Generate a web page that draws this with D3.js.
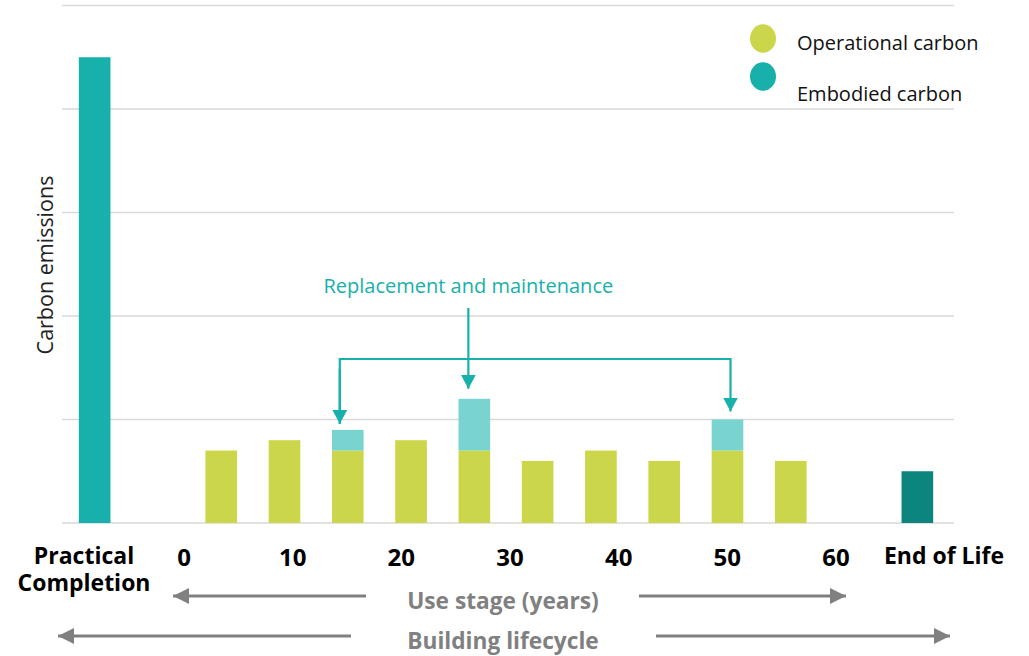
<!DOCTYPE html>
<html><head><meta charset="utf-8">
<script src="https://cdn.jsdelivr.net/npm/d3@7"></script>
<style>body{margin:0;background:#fff}svg{display:block}text{font-family:"Open Sans",sans-serif}</style>
</head><body><svg id="c" width="1029" height="656"></svg>
<script>
// ---- data ----
const slots = ["pc","gapA","s1","s2","s3","s4","s5","s6","s7","s8","s9","s10","gapB","eol"];
const useStageSlots = ["s1","s2","s3","s4","s5","s6","s7","s8","s9","s10"];
const operational = [0.7,0.8,0.7,0.8,0.7,0.6,0.7,0.6,0.7,0.6];
const embodied    = [0,0,0.2,0,0.5,0,0,0,0.3,0];
const practicalCompletion = 4.5;
const endOfLife = 0.5;
const yearTicks = [0,10,20,30,40,50,60];
const gridValues = [0,1,2,3,4,5];

const colors = {pc:"#17b0aa", op:"#cbd64a", emb:"#79d3cf", eol:"#0d857f", grid:"#d9d9d9", note:"#17b0aa", gray:"#808080"};

const svg = d3.select("#c");
const x = d3.scaleBand().domain(slots).range([63, 949]).paddingInner(0.5).paddingOuter(0.25);
const y = d3.scaleLinear().domain([0,5]).range([523, 5.5]);
const xYears = d3.scaleLinear().domain([0,60]).range([184, 836]);
const bw = x.bandwidth();

// gridlines
svg.append("g").selectAll("line").data(gridValues).join("line")
  .attr("x1",62).attr("x2",954).attr("y1",d=>y(d)).attr("y2",d=>y(d))
  .attr("stroke",colors.grid).attr("stroke-width",1.6);

// practical completion bar
svg.append("rect").attr("x",x("pc")).attr("width",bw)
  .attr("y",y(practicalCompletion)).attr("height",y(0)-y(practicalCompletion)).attr("fill",colors.pc);
// end of life
svg.append("rect").attr("x",x("eol")).attr("width",bw)
  .attr("y",y(endOfLife)).attr("height",y(0)-y(endOfLife)).attr("fill",colors.eol);

const stacked = useStageSlots.map((s,i)=>({s, op:operational[i], emb:embodied[i]}));
svg.append("g").selectAll("rect").data(stacked).join("rect")
  .attr("x",d=>x(d.s)).attr("width",bw)
  .attr("y",d=>y(d.op)).attr("height",d=>y(0)-y(d.op)).attr("fill",colors.op);
svg.append("g").selectAll("rect").data(stacked.filter(d=>d.emb>0)).join("rect")
  .attr("x",d=>x(d.s)).attr("width",bw)
  .attr("y",d=>y(d.op+d.emb)).attr("height",d=>y(d.op)-y(d.op+d.emb)).attr("fill",colors.emb);

// y label
svg.append("text").attr("transform","translate(53,265) rotate(-90)")
  .attr("text-anchor","middle").attr("font-size",21.5).attr("fill","#222").text("Carbon emissions");

// x labels
const lab = svg.append("g").attr("font-weight","bold").attr("fill","#000");
lab.append("text").attr("x",84).attr("y",564).attr("text-anchor","middle").attr("font-size",23).text("Practical");
lab.append("text").attr("x",84).attr("y",591).attr("text-anchor","middle").attr("font-size",23).text("Completion");
lab.append("text").attr("x",944).attr("y",564).attr("text-anchor","middle").attr("font-size",23).text("End of Life");
lab.selectAll("text.yr").data(yearTicks).join("text").attr("class","yr")
  .attr("x",d=>xYears(d)).attr("y",566).attr("text-anchor","middle").attr("font-size",24).text(d=>d);

// markers
const defs = svg.append("defs");
function marker(id,color,w,h){
  defs.append("marker").attr("id",id).attr("viewBox",`0 0 ${w} ${h}`).attr("refX",w).attr("refY",h/2)
    .attr("markerWidth",w).attr("markerHeight",h).attr("markerUnits","userSpaceOnUse").attr("orient","auto")
    .append("path").attr("d",`M0,0L${w},${h/2}L0,${h}Z`).attr("fill",color);
}
marker("ag",colors.gray,16,16);
marker("at",colors.note,14,15);

// bottom arrows
const gA = svg.append("g").attr("stroke",colors.gray).attr("stroke-width",3);
gA.append("line").attr("x1",366).attr("x2",173).attr("y1",596).attr("y2",596).attr("marker-end","url(#ag)");
gA.append("line").attr("x1",639).attr("x2",846).attr("y1",596).attr("y2",596).attr("marker-end","url(#ag)");
gA.append("line").attr("x1",351).attr("x2",58).attr("y1",636).attr("y2",636).attr("marker-end","url(#ag)");
gA.append("line").attr("x1",656).attr("x2",950).attr("y1",636).attr("y2",636).attr("marker-end","url(#ag)");
svg.append("text").attr("x",503).attr("y",609).attr("text-anchor","middle").attr("font-size",22.7)
  .attr("font-weight","bold").attr("fill",colors.gray).text("Use stage (years)");
svg.append("text").attr("x",503).attr("y",649).attr("text-anchor","middle").attr("font-size",22.7)
  .attr("font-weight","bold").attr("fill",colors.gray).text("Building lifecycle");

// legend
const leg = svg.append("g");
leg.append("ellipse").attr("cx",763).attr("cy",38.5).attr("rx",13).attr("ry",14.3).attr("fill",colors.op);
leg.append("ellipse").attr("cx",763).attr("cy",76.5).attr("rx",13).attr("ry",14.3).attr("fill",colors.pc);
leg.append("text").attr("x",797).attr("y",50).attr("font-size",20).attr("fill","#111").text("Operational carbon");
leg.append("text").attr("x",797).attr("y",101).attr("font-size",20).attr("fill","#111").text("Embodied carbon");

// annotation
const ann = svg.append("g").attr("stroke",colors.note).attr("stroke-width",2.2).attr("fill","none");
const total = s => { const i = useStageSlots.indexOf(s); return operational[i]+embodied[i]; };
const cx = s => x(s)+bw/2;
const bracketY = 359;
ann.append("path").attr("d",`M${cx("s3")-8},${y(total("s3"))-6}V${bracketY}H${cx("s9")+3}V${y(total("s9"))-8}`)
  .attr("marker-end","url(#at)");
ann.append("line").attr("x1",cx("s3")-8).attr("x2",cx("s3")-8).attr("y1",bracketY+10).attr("y2",y(total("s3"))-6).attr("marker-end","url(#at)");
ann.append("line").attr("x1",cx("s5")-6).attr("x2",cx("s5")-6).attr("y1",308).attr("y2",y(total("s5"))-10).attr("marker-end","url(#at)");
svg.append("text").attr("x",cx("s5")-6).attr("y",293).attr("text-anchor","middle").attr("font-size",20)
  .attr("fill",colors.note).text("Replacement and maintenance");
</script></body></html>
